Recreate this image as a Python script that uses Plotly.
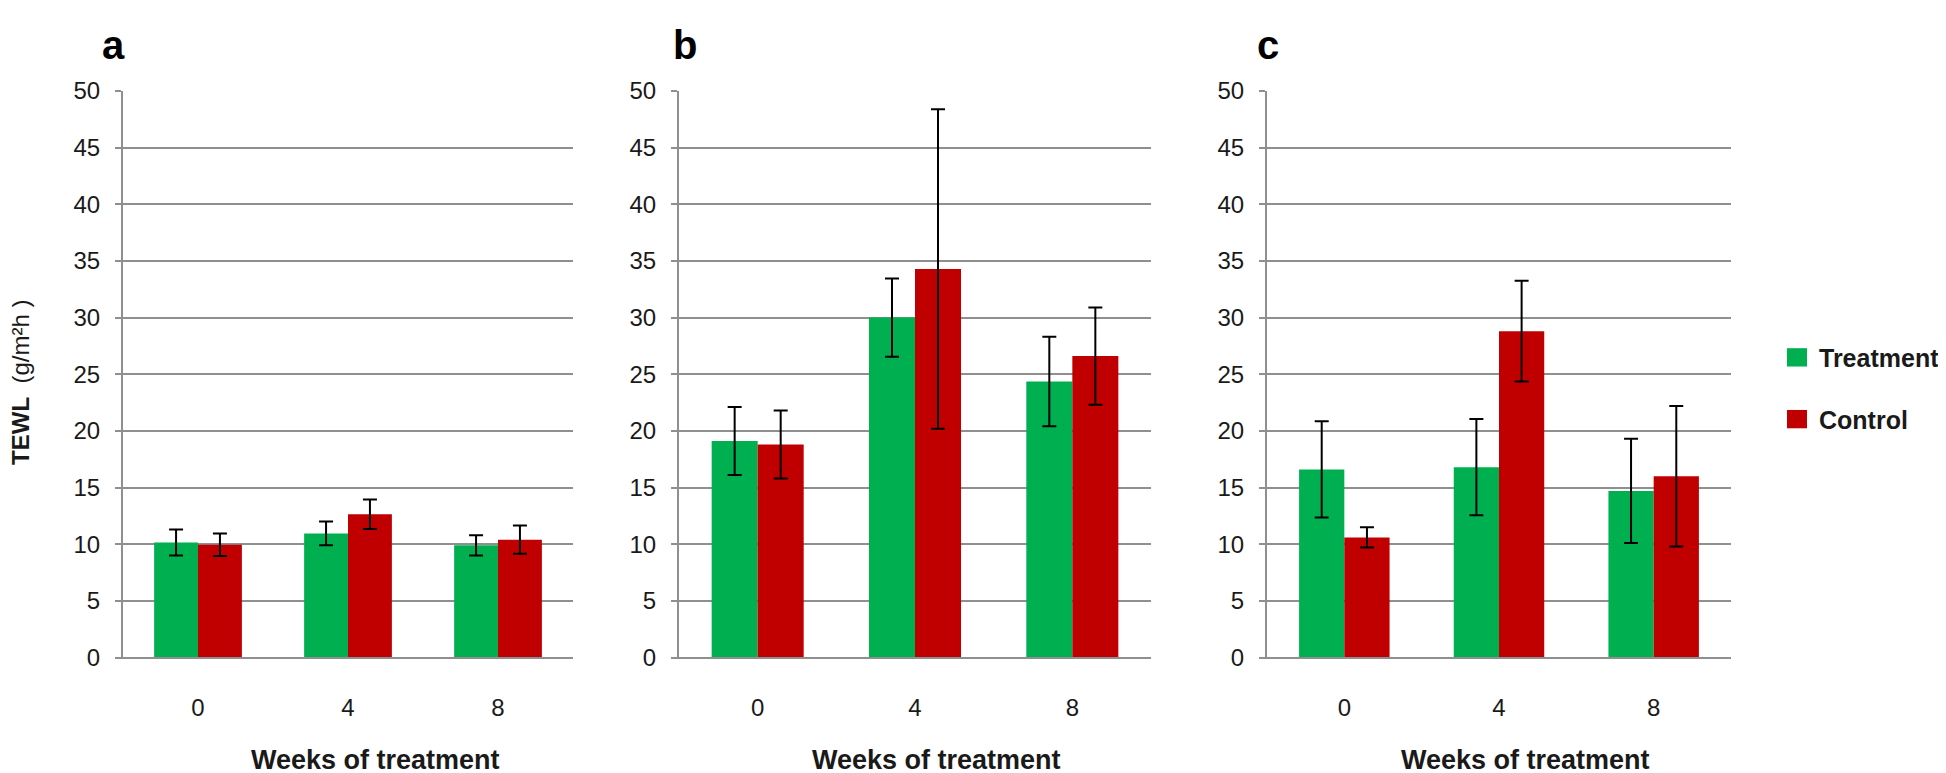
import plotly.graph_objects as go

# ---- data ----
weeks = ["0", "4", "8"]

a_treatment = [10.15, 10.95, 9.9]
a_treatment_err = [1.15, 1.05, 0.9]
a_control = [9.95, 12.65, 10.4]
a_control_err = [1.0, 1.3, 1.25]

b_treatment = [19.1, 30.0, 24.35]
b_treatment_err = [3.0, 3.45, 3.95]
b_control = [18.8, 34.3, 26.6]
b_control_err = [3.0, 14.1, 4.3]

c_treatment = [16.6, 16.8, 14.7]
c_treatment_err = [4.25, 4.25, 4.6]
c_control = [10.6, 28.8, 16.0]
c_control_err = [0.9, 4.45, 6.2]

panel_labels = ["a", "b", "c"]
series_names = ["Treatment", "Control"]
y_ticks = [0, 5, 10, 15, 20, 25, 30, 35, 40, 45, 50]

# ---- style ----
W, H = 1946, 773
GREEN = "#00B050"
RED = "#C00000"
GRID = "#8f8f8f"
FONT = "Liberation Sans, Arial, sans-serif"
TXT = "#1a1a1a"

panels = [
    (a_treatment, a_treatment_err, a_control, a_control_err, (115, 565)),
    (b_treatment, b_treatment_err, b_control, b_control_err, (671, 1143)),
    (c_treatment, c_treatment_err, c_control, c_control_err, (1259, 1723)),
]
y_dom = (1 - 658.5 / H, 1 - 71.5 / H)

fig = go.Figure()
layout = dict(
    width=W, height=H,
    margin=dict(l=0, r=0, t=0, b=0),
    paper_bgcolor="white", plot_bgcolor="white",
    barmode="group", bargap=0.415, bargroupgap=0,
    showlegend=False,
    font=dict(family=FONT, color=TXT),
)

annotations = []
shapes = []

for i, (t, te, c, ce, (x0, x1)) in enumerate(panels):
    sfx = "" if i == 0 else str(i + 1)
    xa, ya = "x" + sfx, "y" + sfx
    for vals, errs, col, name in [(t, te, GREEN, series_names[0]), (c, ce, RED, series_names[1])]:
        fig.add_trace(go.Bar(
            x=weeks, y=vals, name=name, marker=dict(color=col, line=dict(width=0)),
            error_y=dict(type="data", array=errs, visible=True, color="black",
                         thickness=2, width=7),
            xaxis=xa, yaxis=ya,
        ))
    layout["xaxis" + sfx] = dict(
        domain=[x0 / W, x1 / W], anchor=ya, type="category",
        showline=True, linecolor=GRID, linewidth=2, showgrid=False,
        ticks="", ticklabelstandoff=28,
        tickfont=dict(size=24, family=FONT, color=TXT),
    )
    layout["yaxis" + sfx] = dict(
        domain=list(y_dom), anchor=xa, range=[0, 50], tickvals=y_ticks,
        showline=True, linecolor=GRID, linewidth=2,
        showgrid=True, gridcolor=GRID, gridwidth=2, zeroline=False,
        ticks="outside", ticklen=6, tickwidth=2, tickcolor=GRID,
        ticklabelstandoff=10,
        tickfont=dict(size=24, family=FONT, color=TXT),
    )

# panel letters
for lab, xc in zip(panel_labels, [105.5, 676.5, 1259.5]):
    annotations.append(dict(
        text="<b>%s</b>" % lab, x=xc / W, y=1, xref="paper", yref="paper",
        xanchor="center", yanchor="top", showarrow=False, borderpad=0,
        font=dict(size=40, family=FONT, color="black"),
    ))

# x titles
for xc in [367, 928, 1517]:
    annotations.append(dict(
        text="<b>Weeks of treatment</b>", x=xc / W, y=1 - 765 / H,
        xref="paper", yref="paper", xanchor="center", yanchor="middle",
        showarrow=False, font=dict(size=27, family=FONT, color=TXT),
    ))

# y title
annotations.append(dict(
    text="<b>TEWL</b>  (g/m²h )", x=13 / W, y=1 - 374 / H, xref="paper", yref="paper",
    xanchor="center", yanchor="middle", textangle=-90, showarrow=False,
    font=dict(size=24, family=FONT, color=TXT),
))

# legend
for name, col, yc in [(series_names[0], GREEN, 347.5), (series_names[1], RED, 411.5)]:
    shapes.append(dict(type="rect", xref="paper", yref="paper",
                       x0=1779 / W, x1=1799 / W, y0=1 - (yc - 9.5) / H, y1=1 - (yc + 9.5) / H,
                       fillcolor=col, line=dict(width=0)))
    annotations.append(dict(
        text="<b>%s</b>" % name, x=1809 / W, y=1 - (yc + 1) / H, xref="paper", yref="paper",
        xanchor="left", yanchor="middle", showarrow=False,
        font=dict(size=25, family=FONT, color=TXT),
    ))

layout["annotations"] = annotations
layout["shapes"] = shapes
fig.update_layout(**layout)
fig.write_html("out.html")
